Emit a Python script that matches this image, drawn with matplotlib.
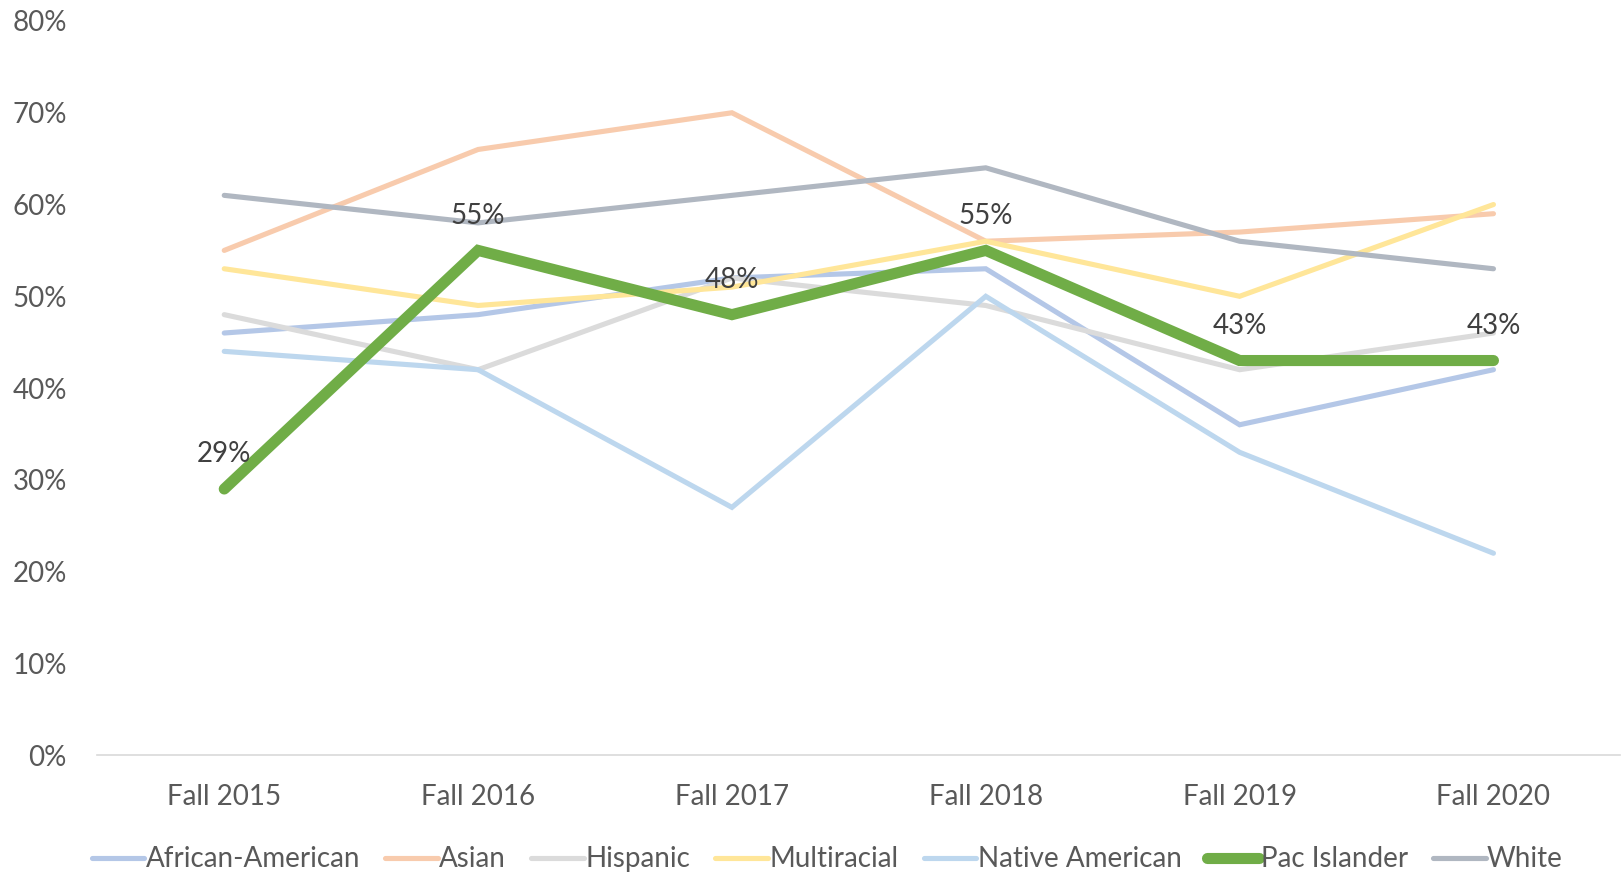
import matplotlib
matplotlib.use("Agg")
import matplotlib.pyplot as plt
from matplotlib.ticker import PercentFormatter

plt.rcParams['font.family'] = ['Lato', 'DejaVu Sans']

terms = ["Fall 2015", "Fall 2016", "Fall 2017", "Fall 2018", "Fall 2019", "Fall 2020"]

african_american = [46, 48, 52, 53, 36, 42]
asian = [55, 66, 70, 56, 57, 59]
hispanic = [48, 42, 52, 49, 42, 46]
multiracial = [53, 49, 51, 56, 50, 60]
native_american = [44, 42, 27, 50, 33, 22]
pac_islander = [29, 55, 48, 55, 43, 43]
white = [61, 58, 61, 64, 56, 53]

series = [
    ("African-American", african_american, "#B4C7E7"),
    ("Asian", asian, "#F8CBAD"),
    ("Hispanic", hispanic, "#DBDBDB"),
    ("Multiracial", multiracial, "#FFE699"),
    ("Native American", native_american, "#BDD7EE"),
    ("Pac Islander", pac_islander, "#70AD47"),
    ("White", white, "#B0B7C1"),
]

fig = plt.figure(figsize=(16.22, 8.75), dpi=100)
ax = fig.add_axes([0.060, 0.137, 0.939, 0.839])

x = range(len(terms))
for name, vals, color in series:
    if name == "Pac Islander":
        ax.plot(x, vals, color=color, lw=8, solid_capstyle='round',
                solid_joinstyle='miter', label=name, zorder=5)
        for xi, v in zip(x, vals):
            ax.annotate(f"{v}%", (xi, v), xytext=(0, 25), textcoords='offset points',
                        ha='center', va='center', fontsize=20, color='#404040', zorder=6)
    else:
        ax.plot(x, vals, color=color, lw=3.7, solid_capstyle='round',
                solid_joinstyle='miter', label=name, zorder=3)

ax.set_xlim(-0.5, len(terms) - 0.5)
ax.set_ylim(0, 80)
ax.set_yticks(range(0, 81, 10))
ax.yaxis.set_major_formatter(PercentFormatter(decimals=0))
ax.set_xticks(list(x))
ax.set_xticklabels(terms)

for s in ['top', 'right', 'left']:
    ax.spines[s].set_visible(False)
ax.spines['bottom'].set_color('#D9D9D9')
ax.spines['bottom'].set_linewidth(1.2)
ax.tick_params(axis='both', length=0, labelsize=20, labelcolor='#595959')
ax.tick_params(axis='x', pad=21)
ax.tick_params(axis='y', pad=22)

fig.legend(loc='center', bbox_to_anchor=(0.51, 0.018), ncol=7, frameon=False,
           fontsize=20, labelcolor='#595959', handlelength=1.9, handletextpad=0.05,
           columnspacing=0.9)

fig.savefig("out.png", dpi=100)
